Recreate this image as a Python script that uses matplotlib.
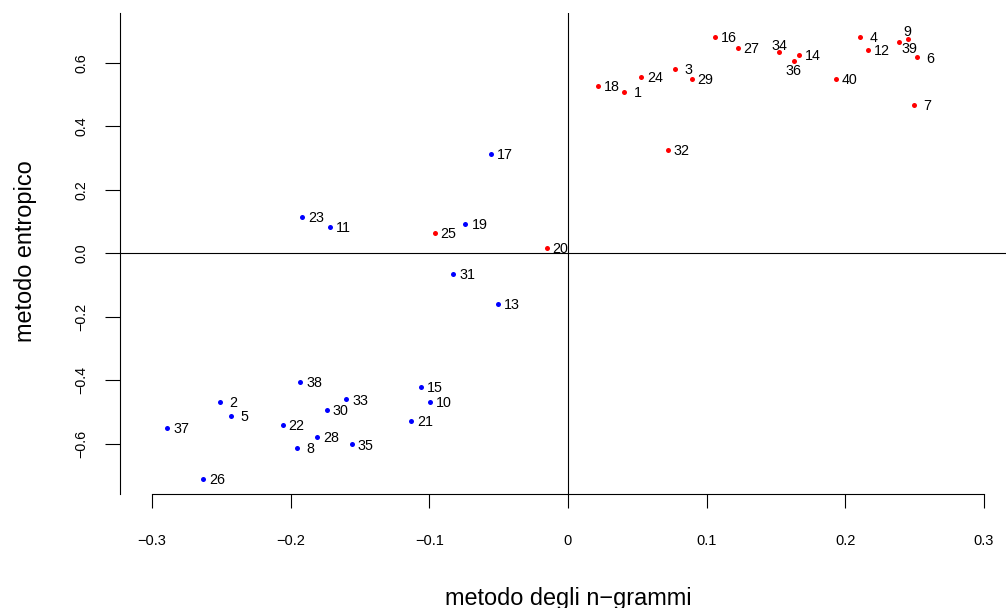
import matplotlib
matplotlib.use("Agg")
import matplotlib.pyplot as plt

plt.rcParams['font.family'] = ['Liberation Sans', 'DejaVu Sans']

# ---- data ----
ids = list(range(1, 41))
ngram = [0.0404, -0.2507, 0.0772, 0.2103, -0.2433, 0.2517, 0.2493, -0.1957, 0.2450, -0.0997,
         -0.1714, 0.2166, -0.0507, 0.1666, -0.1062, 0.1060, -0.0555, 0.0214, -0.0740, -0.0154,
         -0.1134, -0.2058, -0.1920, 0.0526, -0.0961, -0.2634, 0.1224, -0.1808, 0.0892, -0.1740,
         -0.0829, 0.0719, -0.1599, 0.1522, -0.1560, 0.1627, -0.2892, -0.1933, 0.2385, 0.1933]
entropic = [0.508, -0.469, 0.582, 0.683, -0.513, 0.618, 0.468, -0.615, 0.677, -0.469,
            0.082, 0.641, -0.160, 0.627, -0.422, 0.683, 0.313, 0.528, 0.0934, 0.0158,
            -0.529, -0.541, 0.1145, 0.557, 0.064, -0.712, 0.649, -0.580, 0.551, -0.495,
            -0.0653, 0.325, -0.461, 0.634, -0.603, 0.606, -0.552, -0.405, 0.666, 0.551]
group = ['A', 'B', 'A', 'A', 'B', 'A', 'A', 'B', 'A', 'B',
         'B', 'A', 'B', 'A', 'B', 'A', 'B', 'A', 'B', 'A',
         'B', 'B', 'B', 'A', 'A', 'B', 'A', 'B', 'A', 'B',
         'B', 'A', 'B', 'A', 'B', 'A', 'B', 'B', 'A', 'A']
labels = ["%2d" % i for i in ids]
label_side = {9: 'above', 34: 'above', 36: 'below', 39: 'belowright'}

x_ticks = [-0.3, -0.2, -0.1, 0, 0.1, 0.2, 0.3]
x_ticklabels = ["\u22120.3", "\u22120.2", "\u22120.1", "0", "0.1", "0.2", "0.3"]
y_ticks = [-0.6, -0.4, -0.2, 0.0, 0.2, 0.4, 0.6]
y_ticklabels = ["\u22120.6", "\u22120.4", "\u22120.2", "0.0", "0.2", "0.4", "0.6"]

colors = {'A': '#FF0000', 'B': '#0000FF'}

W, H = 1006, 608
fig = plt.figure(figsize=(W / 100, H / 100), dpi=100)
ax = fig.add_axes([120 / W, (H - 494) / H, (W - 120) / W, (494 - 13) / H])
ax.set_xlim(-0.3231, 0.3159)
ax.set_ylim(-0.7593, 0.758)

ax.axhline(0, color='black', lw=0.8, zorder=1)
ax.axvline(0, color='black', lw=0.8, zorder=1)

for xi, yi, g in zip(ngram, entropic, group):
    ax.plot(xi, yi, 'o', color=colors[g], markersize=3.6, markeredgewidth=0, zorder=3)

pt = 0.72  # points per pixel
for i, xi, yi, lab in zip(ids, ngram, entropic, labels):
    side = label_side.get(i, 'right')
    if side == 'right':
        off, ha, va = (6 * pt, -5.2 * pt), 'left', 'baseline'
    elif side == 'above':
        lab = lab.strip()
        off, ha, va = (0, 2.8 * pt), 'center', 'baseline'
    elif side == 'below':
        lab = lab.strip()
        off, ha, va = (0, -13.9 * pt), 'center', 'baseline'
    else:
        off, ha, va = (3 * pt, -10.9 * pt), 'left', 'baseline'
    ax.annotate(lab, (xi, yi), xytext=off, textcoords='offset points',
                ha=ha, va=va, fontsize=10.3, color='black', zorder=4)

for s in ['top', 'right']:
    ax.spines[s].set_visible(False)
ax.spines['bottom'].set_bounds(-0.3, 0.3)
for s in ['left', 'bottom']:
    ax.spines[s].set_linewidth(0.8)
    ax.spines[s].set_color('black')

ax.set_xticks(x_ticks)
ax.set_xticklabels(x_ticklabels)
ax.set_yticks(y_ticks)
ax.set_yticklabels(y_ticklabels, rotation=90, va='center', ha='center')
ax.tick_params(axis='x', length=14 * pt, width=0.8, pad=19, labelsize=10.5)
ax.tick_params(axis='y', length=15 * pt, width=0.8, pad=17, labelsize=10.3)

fig.text(568 / W, 1 - 598 / H, "metodo degli n\u2212grammi", ha='center', va='center', fontsize=16.9)
fig.text(26 / W, 1 - 251 / H, "metodo entropico", ha='center', va='center', rotation=90, fontsize=16.9)

fig.savefig("out.png", dpi=100)
